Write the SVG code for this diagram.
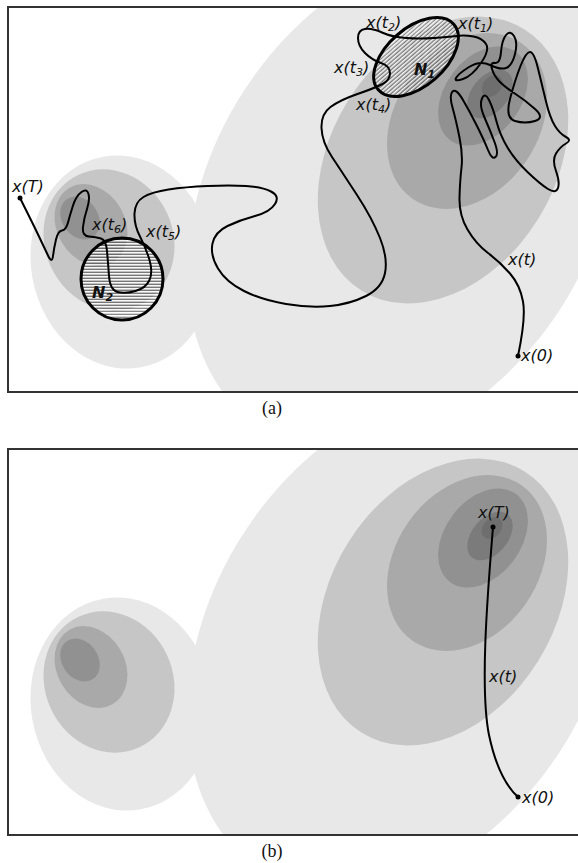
<svg xmlns="http://www.w3.org/2000/svg" xmlns:xlink="http://www.w3.org/1999/xlink" width="578" height="863" viewBox="0 0 578 863">
<style>
.l1{fill:#e8e8e8}.l2{fill:#c6c6c6}.l3{fill:#a9a9a9}.l4{fill:#919191}.l5{fill:#7b7b7b}.l6{fill:#6e6e6e}
.frame{fill:none;stroke:#333;stroke-width:2}
.traj{fill:none;stroke:#000;stroke-width:2;stroke-linejoin:round;stroke-linecap:round}
.set{fill:url(#hatch);stroke:#000;stroke-width:3}
.lab{font-family:"DejaVu Sans",sans-serif;font-style:italic;font-size:16px;fill:#111}
.sub{font-size:11px}
.nl{font-family:"DejaVu Sans",sans-serif;font-style:italic;font-weight:bold;font-size:16px;fill:#111}
.cap{font-family:"Liberation Serif",serif;font-size:18px;fill:#111;text-anchor:middle}
</style>
<defs>
<pattern id="hatch" patternUnits="userSpaceOnUse" width="8" height="3">
<rect x="0" y="0" width="8" height="1.4" fill="#fff" fill-opacity="0.85"/>
<rect x="0" y="1.8" width="8" height="1" fill="#222" fill-opacity="0.6"/>
</pattern>
<clipPath id="clipA"><rect x="8" y="7" width="572" height="385"/></clipPath>
<clipPath id="clipB"><rect x="8" y="449" width="572" height="386"/></clipPath>
<g id="land">
<ellipse class="l1" cx="402" cy="200" rx="268" ry="192" transform="rotate(-59 402 200)"/>
<ellipse class="l1" cx="122" cy="262" rx="91" ry="107" transform="rotate(-10 122 262)"/>
<ellipse class="l2" cx="109" cy="240" rx="64" ry="72" transform="rotate(-25 109 240)"/>
<ellipse class="l3" cx="91" cy="225" rx="34" ry="43" transform="rotate(-30 91 225)"/>
<ellipse class="l4" cx="80" cy="218" rx="18" ry="23" transform="rotate(-35 80 218)"/>
<ellipse class="l2" cx="443" cy="160" rx="154" ry="112" transform="rotate(-58 443 160)"/>
<ellipse class="l3" cx="467" cy="121" rx="95" ry="71.5" transform="rotate(-55 467 121)"/>
<ellipse class="l4" cx="483" cy="96" rx="55" ry="38" transform="rotate(-53 483 96)"/>
<ellipse class="l5" cx="490" cy="94" rx="28" ry="18" transform="rotate(-50 490 94)"/>
<ellipse class="l6" cx="492" cy="86" rx="12" ry="9" transform="rotate(-50 492 86)"/>
</g>
</defs>
<rect width="578" height="863" fill="#fff"/>

<g id="panel-a">
<g id="landscape-a" clip-path="url(#clipA)"><use xlink:href="#land"/></g>
<g id="N1"><ellipse class="set" cx="416" cy="57" rx="50" ry="29" transform="rotate(-41 416 57)"/>
<text class="nl" x="414" y="75">N<tspan class="sub" dy="3">1</tspan></text></g>
<g id="N2"><circle class="set" cx="122" cy="279" r="41"/>
<text class="nl" x="92" y="298">N<tspan class="sub" dy="3">2</tspan></text></g>
<g id="connectors-a">
<path class="traj" d="M518,356 Q526,318 523,301.5 Q520,285 510,273.5 Q500,262 488,253 Q476,244 467.5,229.5 Q459,215 459.5,197.5 Q460,180 461.5,167.5 Q463,155 459.5,137.5 Q456,120 452.5,107.5 Q449,95 452.5,91.5 Q456,88 463,100 Q470,112 477,126 Q484,140 488,150 Q492,160 495.5,157 Q499,154 494.5,142 Q490,130 484.5,117.5 Q479,105 482,98.5 Q485,92 489,100 Q493,108 496.5,121.5 Q500,135 507.5,147.5 Q515,160 527.5,172 Q540,184 548,189 Q556,194 558,188 Q560,182 556,171 Q552,160 556,153.5 Q560,147 566,143.5 Q572,140 566,137 Q560,134 555,126 Q550,118 546,101.5 Q542,85 538,68.5 Q534,52 530,52 Q526,52 520.5,66 Q515,80 510,99 Q505,118 515,121 Q525,124 535,121 Q545,118 535,109 Q525,100 515.5,94 Q506,88 500,82 Q494,76 492,69 Q490,62 495,63 Q500,64 501,52 Q502,40 506,35 Q510,30 514,36 Q518,42 515,54 Q512,66 506,68 Q500,70 490,65 Q480,60 469,67 Q458,74 456,78 Q454,82 463,79 Q472,76 481,63 Q490,50 486,44 Q482,38 473.5,36.5 Q465,35 456.5,36 Q448,37 434,38 Q420,39 406,38 Q392,37 382,32.5 Q372,28 365,29 Q358,30 358,38 Q358,46 365,53 Q372,60 381,63 Q390,66 390,73 Q390,80 382.5,84 Q375,88 357.5,94 Q340,100 330.5,107 Q321,114 321.5,128 Q322,142 332,157 Q342,172 357,195 Q372,218 380,238 Q388,258 385,273 Q382,288 366,296 Q350,304 330,306 Q310,308 286,304 Q262,300 244,291 Q226,282 218,268.5 Q210,255 212.5,243.5 Q215,232 227.5,226 Q240,220 255,216 Q270,212 275,204 Q280,196 271,191.5 Q262,187 246,186 Q230,185 207.5,186 Q185,187 168.5,189.5 Q152,192 143.5,197 Q135,202 134.5,213.5 Q134,225 140,236.5 Q146,248 149.5,260 Q153,272 149.5,280 Q146,288 135.5,291 Q125,294 117.5,292 Q110,290 109,276 Q108,262 107,251 Q106,240 101,238.5 Q96,237 89,236.5 Q82,236 83,227 Q84,218 87,209 Q90,200 88.5,194 Q87,188 81.5,192 Q76,196 73,205.5 Q70,215 68,222.5 Q66,230 62,230.5 Q58,231 56,239.5 Q54,248 53,256 Q52,264 48,255.5 Q44,247 39,236.5 Q34,226 20,198"/>
<circle cx="518" cy="356" r="2.5"/>
<circle cx="20" cy="198" r="2.5"/>
</g>
<g id="labels-a">
<text class="lab" x="366" y="28">x(t<tspan class="sub" dy="3">2</tspan><tspan dy="-3">)</tspan></text>
<text class="lab" x="458" y="29">x(t<tspan class="sub" dy="3">1</tspan><tspan dy="-3">)</tspan></text>
<text class="lab" x="334" y="73">x(t<tspan class="sub" dy="3">3</tspan><tspan dy="-3">)</tspan></text>
<text class="lab" x="356" y="110">x(t<tspan class="sub" dy="3">4</tspan><tspan dy="-3">)</tspan></text>
<text class="lab" x="92" y="230">x(t<tspan class="sub" dy="3">6</tspan><tspan dy="-3">)</tspan></text>
<text class="lab" x="146" y="237">x(t<tspan class="sub" dy="3">5</tspan><tspan dy="-3">)</tspan></text>
<text class="lab" x="12" y="192">x(T)</text>
<text class="lab" x="508" y="265">x(t)</text>
<text class="lab" x="521" y="361">x(0)</text>
</g>
<rect class="frame" x="8" y="7" width="572" height="385"/>
<text class="cap" x="272" y="414">(a)</text>
</g>

<g id="panel-b">
<g id="landscape-b" clip-path="url(#clipB)"><use xlink:href="#land" y="442"/></g>
<g id="connectors-b">
<path class="traj" d="M493,527 C487,600 480,690 489,735 C496,768 507,787 518,797"/>
<circle cx="493" cy="527" r="2.5"/>
<circle cx="518" cy="797" r="2.5"/>
</g>
<g id="labels-b">
<text class="lab" x="478" y="518">x(T)</text>
<text class="lab" x="489" y="682">x(t)</text>
<text class="lab" x="522" y="803">x(0)</text>
</g>
<rect class="frame" x="8" y="449" width="572" height="386"/>
<text class="cap" x="272" y="857">(b)</text>
</g>
</svg>
